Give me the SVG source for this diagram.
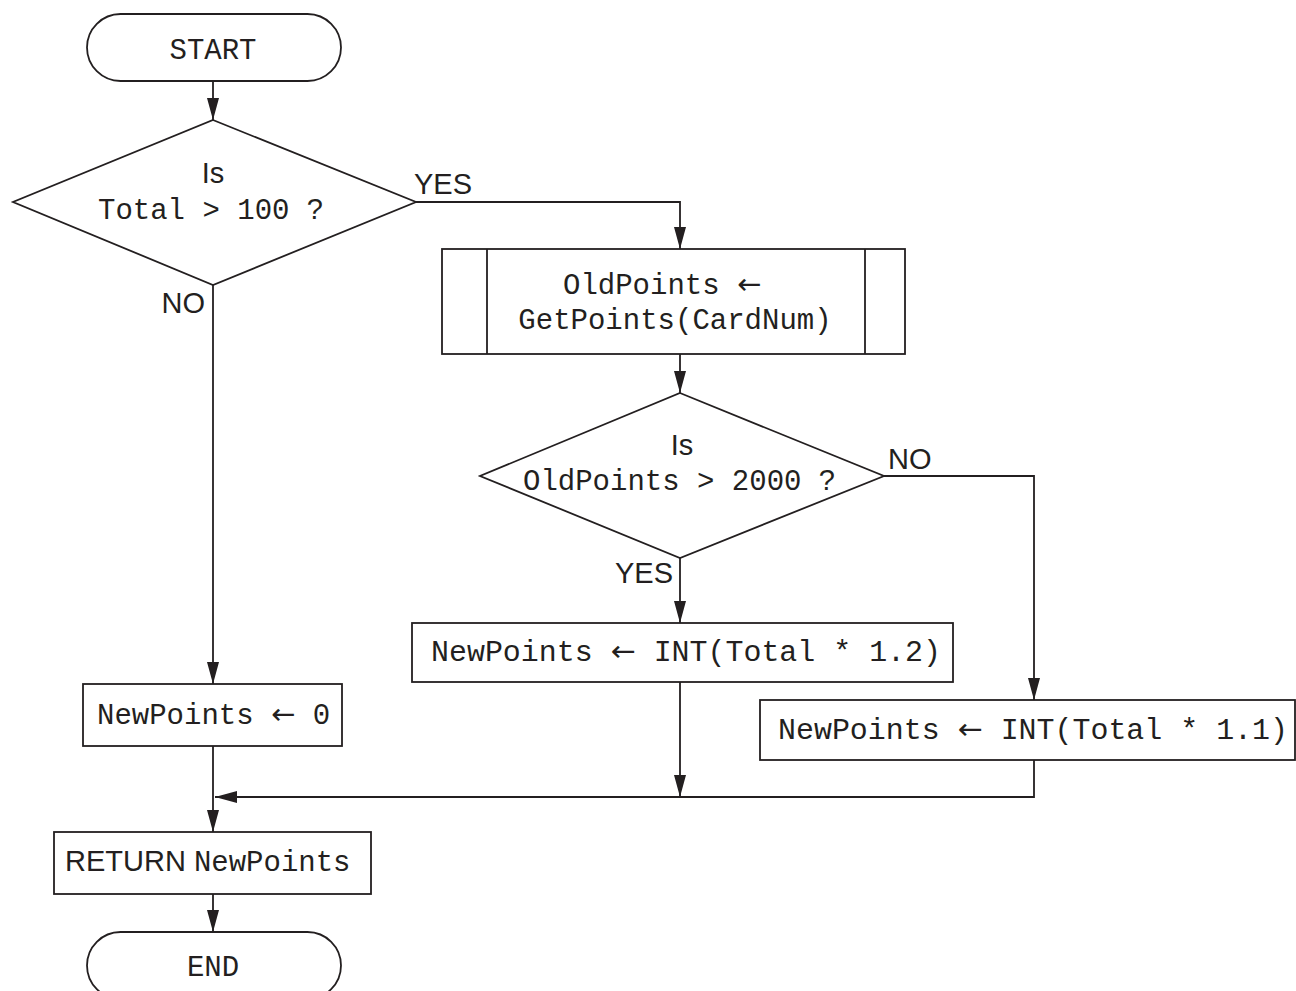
<svg xmlns="http://www.w3.org/2000/svg" width="1296" height="991" viewBox="0 0 1296 991">
<style>
.s{fill:#fff;stroke:#231f20;stroke-width:1.8}
.c{fill:none;stroke:#231f20;stroke-width:1.8}
.m{font-family:"Liberation Mono","Courier New",monospace;font-size:29px;fill:#231f20}
.a{font-family:"Liberation Sans",Arial,sans-serif;font-size:29px;fill:#231f20}
.r{font-family:"DejaVu Sans",sans-serif;font-size:29px}
</style>
<defs>
<marker id="ah" markerWidth="22" markerHeight="12" refX="22" refY="6" orient="auto" markerUnits="userSpaceOnUse">
<path d="M0,0 L22,6 L0,12 z" fill="#231f20"/>
</marker>
</defs>
<rect width="1296" height="991" fill="#fff"/>
<g id="connectors">
<path class="c" d="M213,81 V120" marker-end="url(#ah)"/>
<path class="c" d="M416,202 H680 V249" marker-end="url(#ah)"/>
<path class="c" d="M680,354 V393" marker-end="url(#ah)"/>
<path class="c" d="M680,558 V623" marker-end="url(#ah)"/>
<path class="c" d="M884,476 H1034 V700" marker-end="url(#ah)"/>
<path class="c" d="M213,285 V684" marker-end="url(#ah)"/>
<path class="c" d="M213,746 V832" marker-end="url(#ah)"/>
<path class="c" d="M680,682 V797" marker-end="url(#ah)"/>
<path class="c" d="M1034,760 V797 H215" marker-end="url(#ah)"/>
<path class="c" d="M213,894 V932" marker-end="url(#ah)"/>
<text class="a" x="414" y="194">YES</text>
<text class="a" x="205" y="313" text-anchor="end">NO</text>
<text class="a" x="888" y="469">NO</text>
<text class="a" x="673" y="583" text-anchor="end">YES</text>
</g>
<g id="start">
<rect class="s" x="87" y="14" width="254" height="67" rx="33.5"/>
<text class="m" x="213" y="59" text-anchor="middle">START</text>
</g>
<g id="decision1">
<polygon class="s" points="213,120 416,202 213,285 13,202"/>
<text class="a" x="213" y="183" text-anchor="middle">Is</text>
<text class="m" x="98" y="219">Total &gt; 100 <tspan class="a">?</tspan></text>
</g>
<g id="getpoints">
<rect class="s" x="442" y="249" width="463" height="105"/>
<line class="c" x1="487" y1="249" x2="487" y2="354"/>
<line class="c" x1="865" y1="249" x2="865" y2="354"/>
<text class="m" x="563" y="294">OldPoints <tspan class="r">←</tspan></text>
<text class="m" x="675" y="329" text-anchor="middle">GetPoints(CardNum)</text>
</g>
<g id="decision2">
<polygon class="s" points="680,393 884,476 680,558 480,476"/>
<text class="a" x="682" y="455" text-anchor="middle">Is</text>
<text class="m" x="523" y="490">OldPoints &gt; 2000 <tspan class="a">?</tspan></text>
</g>
<g id="newpoints12">
<rect class="s" x="412" y="623" width="541" height="59"/>
<text class="m" x="431" y="661" textLength="510" lengthAdjust="spacingAndGlyphs">NewPoints <tspan class="r">←</tspan> INT(Total * 1.2)</text>
</g>
<g id="newpoints11">
<rect class="s" x="760" y="700" width="535" height="60"/>
<text class="m" x="778" y="739" textLength="510" lengthAdjust="spacingAndGlyphs">NewPoints <tspan class="r">←</tspan> INT(Total * 1.1)</text>
</g>
<g id="newpoints0">
<rect class="s" x="83" y="684" width="259" height="62"/>
<text class="m" x="97" y="724">NewPoints <tspan class="r">←</tspan> 0</text>
</g>
<g id="return">
<rect class="s" x="54" y="832" width="317" height="62"/>
<text class="a" x="65" y="871">RETURN <tspan class="m">NewPoints</tspan></text>
</g>
<g id="end">
<rect class="s" x="87" y="932" width="254" height="67" rx="33.5"/>
<text class="m" x="213" y="976" text-anchor="middle">END</text>
</g>
</svg>
